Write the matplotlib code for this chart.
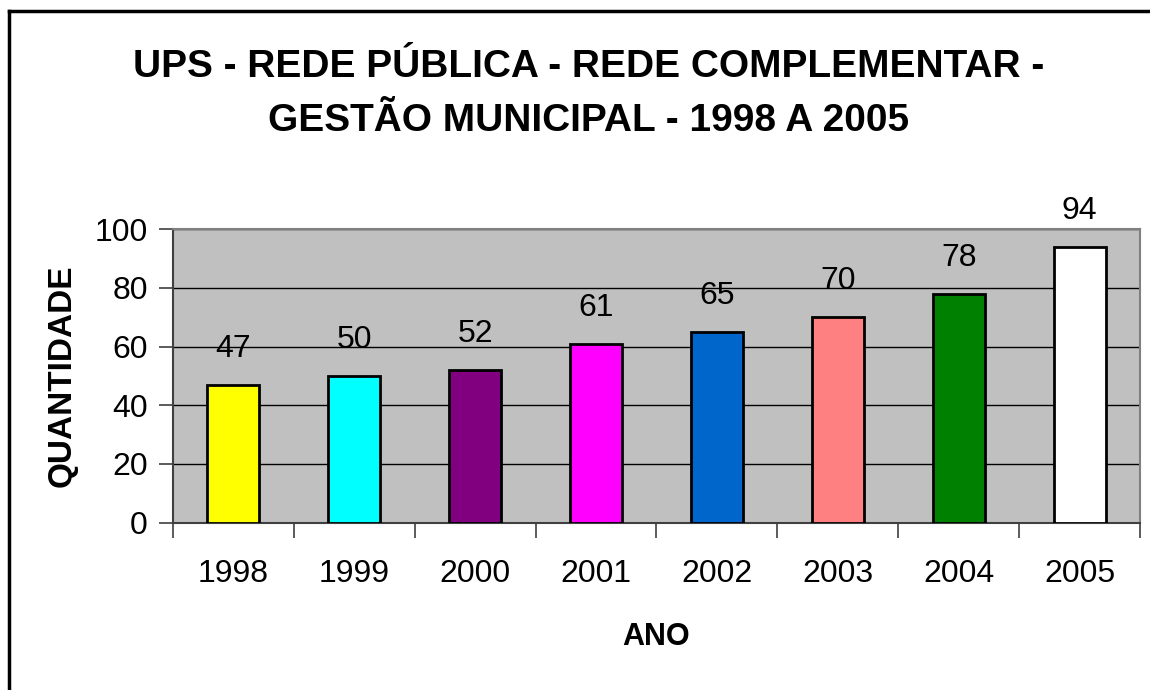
import matplotlib
matplotlib.use('Agg')
import matplotlib.pyplot as plt
from matplotlib.lines import Line2D

plt.rcParams['font.family'] = ['Liberation Sans', 'DejaVu Sans']

# data
years = ['1998', '1999', '2000', '2001', '2002', '2003', '2004', '2005']
quantidade = [47, 50, 52, 61, 65, 70, 78, 94]
bar_colors = ['#FFFF00', '#00FFFF', '#800080', '#FF00FF',
              '#0066CC', '#FF8080', '#008000', '#FFFFFF']
y_ticks = [0, 20, 40, 60, 80, 100]

fig = plt.figure(figsize=(11.5, 6.9), dpi=100)
ax = fig.add_axes([0.1504, 0.2425, 0.8409, 0.4255])

x = list(range(len(years)))
ax.bar(x, quantidade, width=0.43, color=bar_colors,
       edgecolor='black', linewidth=2, zorder=3)

# value labels above the bars
for xi, q in zip(x, quantidade):
    ax.annotate(str(q), (xi, q), xytext=(0, 15), textcoords='offset points',
                ha='center', va='bottom', fontsize=23, clip_on=False)

ax.set_facecolor('#C0C0C0')
ax.set_xlim(-0.5, len(years) - 0.5)
ax.set_ylim(0, 100)
ax.set_yticks(y_ticks)
ax.set_yticklabels([str(t) for t in y_ticks], fontsize=23)
ax.yaxis.grid(True, color='black', linewidth=1)
ax.set_axisbelow(True)

# category ticks sit between the bars, labels in the middle
ax.set_xticks([i - 0.5 for i in range(len(years) + 1)])
ax.set_xticklabels([])
ax.set_xticks(x, minor=True)
ax.set_xticklabels(years, minor=True, fontsize=23)
ax.tick_params(axis='x', which='major', length=11, width=1.2, color='#404040')
ax.tick_params(axis='x', which='minor', length=0, pad=26)
ax.tick_params(axis='y', length=10, width=1.2, color='#404040', pad=8)

for side in ['top', 'right']:
    ax.spines[side].set_color('#808080')
    ax.spines[side].set_linewidth(1.5)
ax.spines['left'].set_color('#404040')
ax.spines['bottom'].set_color('#404040')
ax.spines['left'].set_linewidth(1.5)
ax.spines['bottom'].set_linewidth(1.5)

ax.set_ylabel('QUANTIDADE', fontsize=24, fontweight='bold', labelpad=12)
ax.set_xlabel('ANO', fontsize=22, fontweight='bold', labelpad=24)

fig.text(0.512, 0.864, 'UPS - REDE PÚBLICA - REDE COMPLEMENTAR -\nGESTÃO MUNICIPAL - 1998 A 2005',
         ha='center', va='center', fontsize=28, fontweight='bold', linespacing=1.63)

# outer chart frame (left and top edges visible)
fig.add_artist(Line2D([9 / 1150, 9 / 1150], [0, 1 - 11 / 690],
                      transform=fig.transFigure, color='black', linewidth=2.5))
fig.add_artist(Line2D([9 / 1150, 1], [1 - 11 / 690, 1 - 11 / 690],
                      transform=fig.transFigure, color='black', linewidth=2.5))

fig.savefig('out.png', dpi=100)
